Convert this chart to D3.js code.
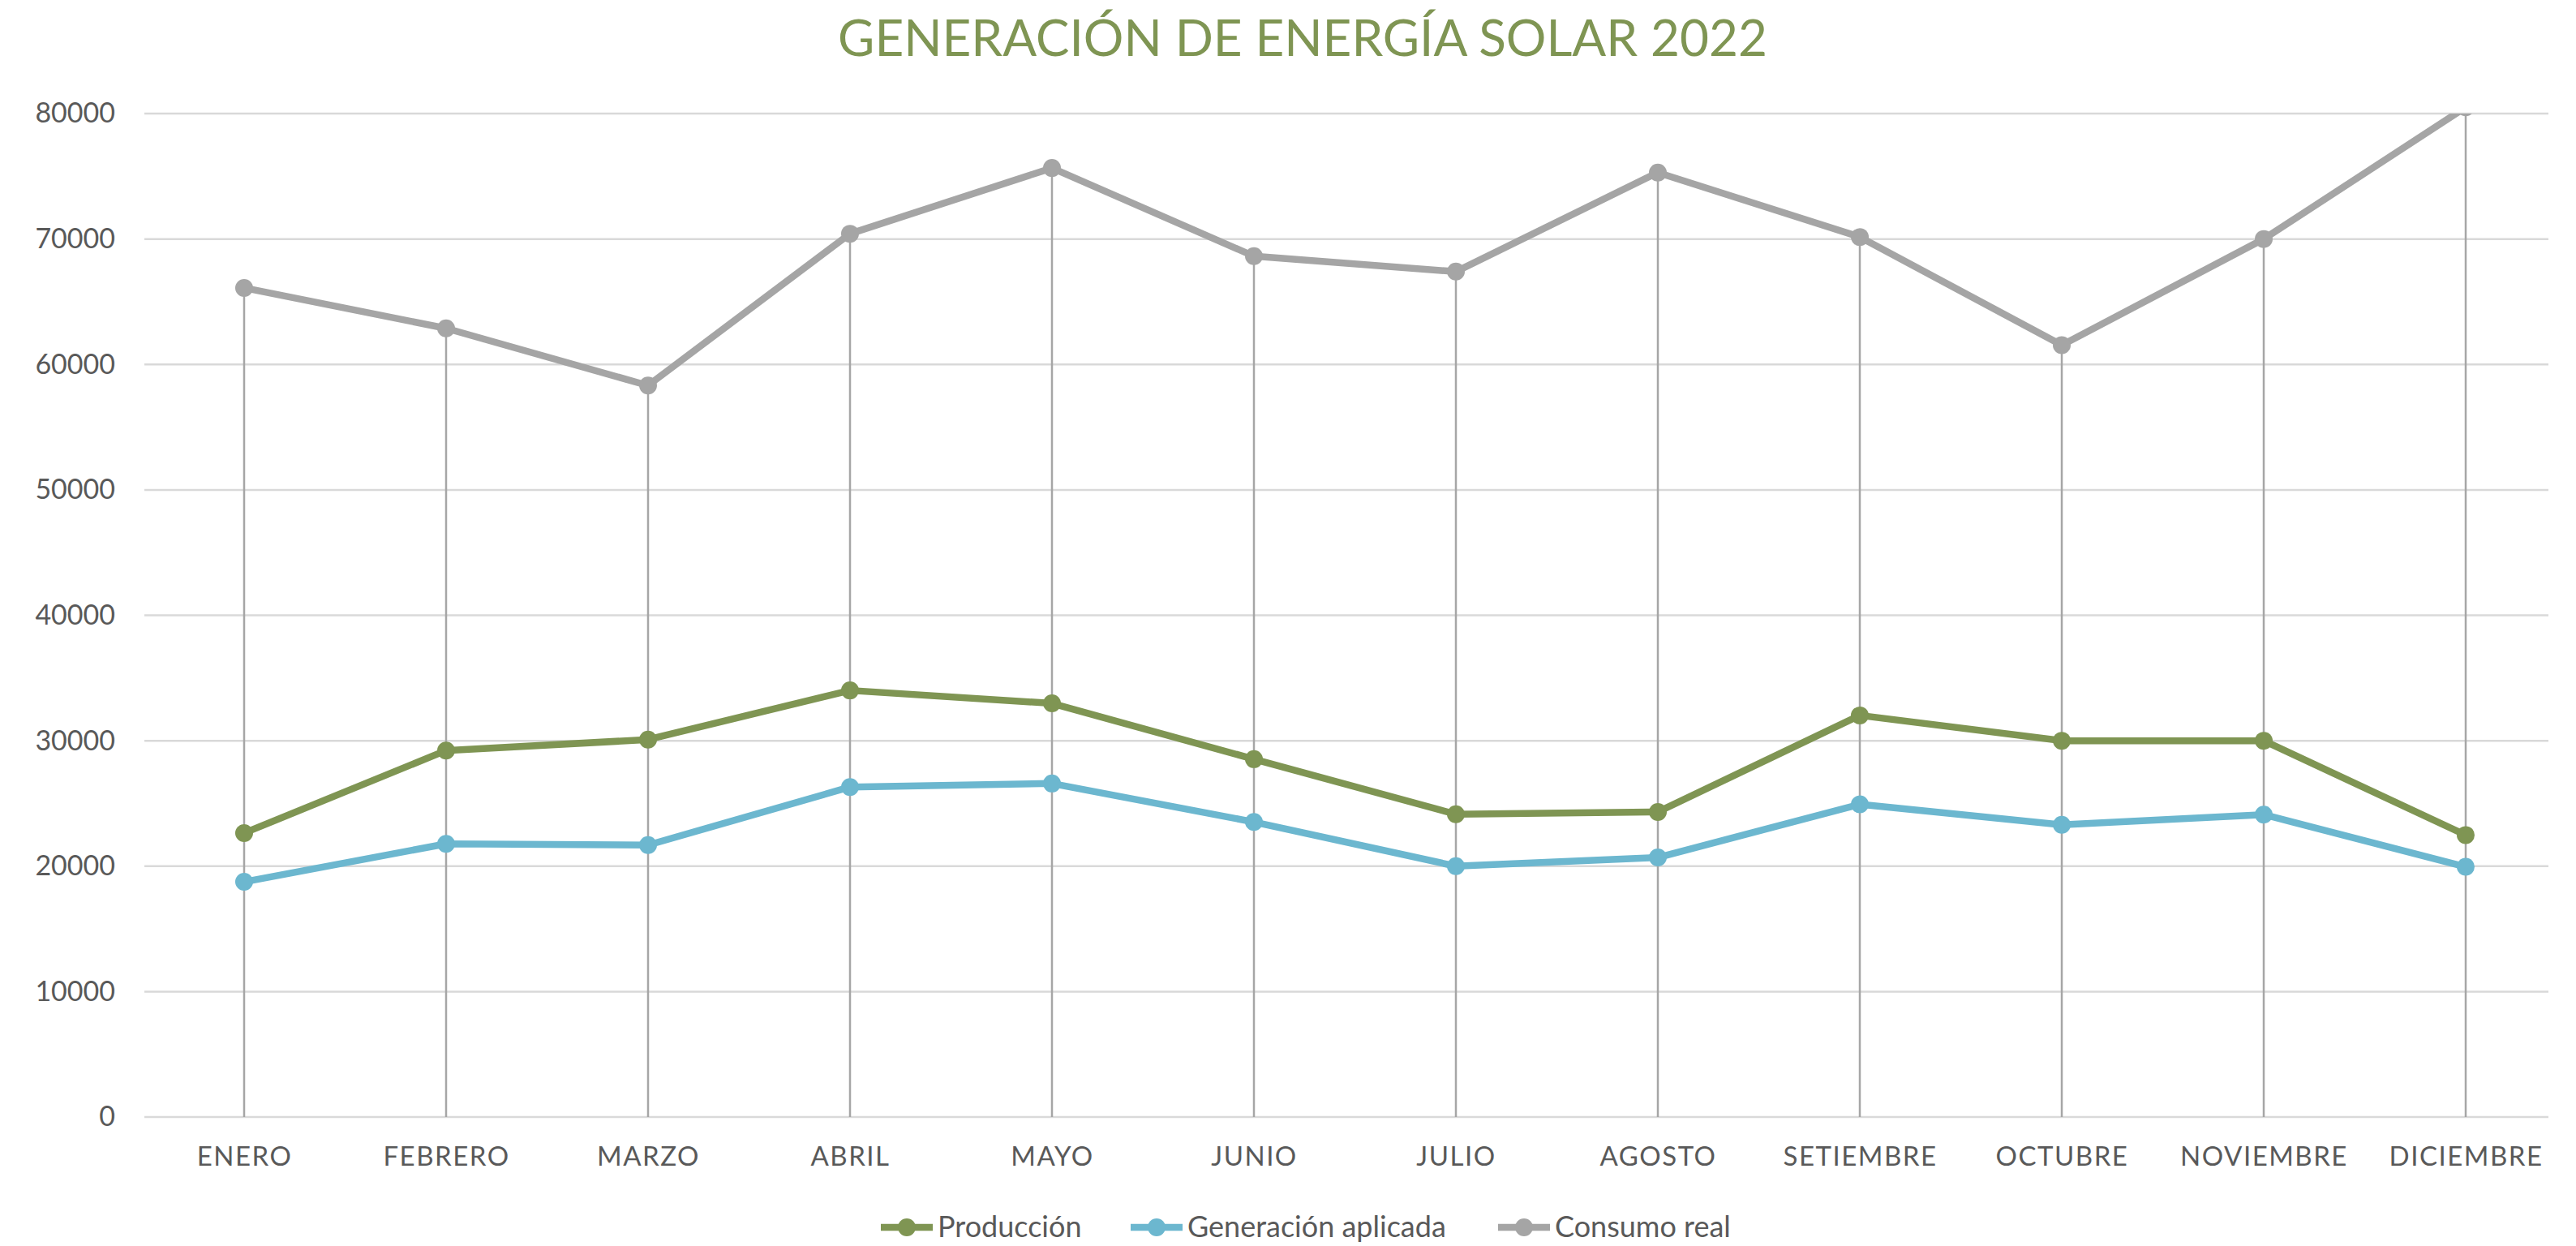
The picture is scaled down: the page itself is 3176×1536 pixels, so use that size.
<!DOCTYPE html>
<html>
<head>
<meta charset="utf-8">
<script src="https://cdn.jsdelivr.net/npm/d3@7"></script>
<style>
  body { margin: 0; background: #fff; }
  svg { display: block; }
</style>
</head>
<body>
<div id="chart"></div>
<script>
// Data
const months = ['ENERO', 'FEBRERO', 'MARZO', 'ABRIL', 'MAYO', 'JUNIO', 'JULIO',
                'AGOSTO', 'SETIEMBRE', 'OCTUBRE', 'NOVIEMBRE', 'DICIEMBRE'];
const produccion = [22640, 29220, 30090, 34010, 32980, 28530, 24140, 24320, 32020, 30000, 30000, 22480];
const generacion = [18750, 21780, 21680, 26310, 26590, 23520, 20000, 20690, 24930, 23300, 24110, 19950];
const consumo = [66100, 62880, 58320, 70420, 75660, 68630, 67400, 75300, 70160, 61540, 70000, 80500];
const yTicks = [0, 10000, 20000, 30000, 40000, 50000, 60000, 70000, 80000];
const seriesNames = ['Producción', 'Generación aplicada', 'Consumo real'];
const seriesColors = ['#7f9553', '#6cb7cf', '#a5a5a5'];

const series = [produccion, generacion, consumo].map((vals, i) => ({
    name: seriesNames[i],
    color: seriesColors[i],
    values: vals
}));

// Dimensions
let width = 3176,
    height = 1536;

let margin = {
    top: 140,
    bottom: 159,
    left: 178,
    right: 34
};

let svg = d3.select('#chart')
    .append('svg')
    .attr('width', width)
    .attr('height', height)
    .style('font-family', 'Lato, "Open Sans", sans-serif');

// Scales
let xScale = d3.scalePoint()
    .domain(months)
    .range([301, 3040]);

let yScale = d3.scaleLinear()
    .domain([0, 80000])
    .range([height - margin.bottom, margin.top]);

// Clip to plot area (the December point runs off the top)
svg.append('clipPath')
    .attr('id', 'plot-clip')
    .append('rect')
    .attr('x', margin.left)
    .attr('y', margin.top)
    .attr('width', width - margin.left - margin.right)
    .attr('height', height - margin.top - margin.bottom);

// Horizontal gridlines
svg.append('g')
    .selectAll('line')
    .data(yTicks)
    .enter()
    .append('line')
    .attr('x1', margin.left)
    .attr('x2', width - margin.right)
    .attr('y1', d => yScale(d))
    .attr('y2', d => yScale(d))
    .attr('stroke', '#d9d9d9')
    .attr('stroke-width', 2.5);

// Y axis labels
let yAxis = svg.append('g')
    .attr('transform', `translate(${margin.left},0)`)
    .call(d3.axisLeft(yScale).tickValues(yTicks).tickSize(0).tickPadding(36).tickFormat(d3.format('d')));
yAxis.select('.domain').remove();
yAxis.selectAll('text')
    .attr('fill', '#595959')
    .style('font-size', '34px')
    .style('font-family', 'Lato, sans-serif');

// X axis labels
let xAxis = svg.append('g')
    .attr('transform', `translate(0,${height - margin.bottom})`)
    .call(d3.axisBottom(xScale).tickSize(0).tickPadding(37));
xAxis.select('.domain').remove();
xAxis.selectAll('text')
    .attr('fill', '#595959')
    .style('font-size', '33px')
    .style('letter-spacing', '1.5px')
    .style('font-family', 'Lato, sans-serif');

let plot = svg.append('g').attr('clip-path', 'url(#plot-clip)');

// Drop lines from highest point to axis
plot.append('g')
    .selectAll('line')
    .data(months)
    .enter()
    .append('line')
    .attr('x1', d => xScale(d))
    .attr('x2', d => xScale(d))
    .attr('y1', (d, i) => yScale(d3.max(series, s => s.values[i])))
    .attr('y2', yScale(0))
    .attr('stroke', '#a6a6a6')
    .attr('stroke-width', 2.5);

// Lines
let line = d3.line()
    .x((d, i) => xScale(months[i]))
    .y(d => yScale(d));

plot.selectAll('.series-line')
    .data(series)
    .enter()
    .append('path')
    .attr('class', 'series-line')
    .attr('d', d => line(d.values))
    .attr('fill', 'none')
    .attr('stroke', d => d.color)
    .attr('stroke-width', 8.5)
    .attr('stroke-linejoin', 'round');

// Markers
series.forEach(s => {
    plot.append('g')
        .selectAll('circle')
        .data(s.values)
        .enter()
        .append('circle')
        .attr('cx', (d, i) => xScale(months[i]))
        .attr('cy', d => yScale(d))
        .attr('r', 11)
        .attr('fill', s.color);
});

// Title
svg.append('text')
    .attr('x', 1606)
    .attr('y', 69)
    .text('GENERACIÓN DE ENERGÍA SOLAR 2022')
    .attr('fill', '#7f9553')
    .style('font-size', '62px')
    .style('text-anchor', 'middle');

// Legend
const legendX = [1086, 1394, 1847];
const legend = svg.selectAll('.legend')
    .data(series)
    .enter().append('g')
    .attr('class', 'legend')
    .attr('transform', (d, i) => `translate(${legendX[i]},1513)`);

legend.append('line')
    .attr('x1', 0)
    .attr('x2', 64)
    .attr('y1', 0)
    .attr('y2', 0)
    .attr('stroke', d => d.color)
    .attr('stroke-width', 8.5);

legend.append('circle')
    .attr('cx', 32)
    .attr('cy', 0)
    .attr('r', 11)
    .attr('fill', d => d.color);

legend.append('text')
    .attr('x', 70)
    .attr('y', 12)
    .text(d => d.name)
    .attr('fill', '#595959')
    .style('font-size', '36px');
</script>
</body>
</html>
